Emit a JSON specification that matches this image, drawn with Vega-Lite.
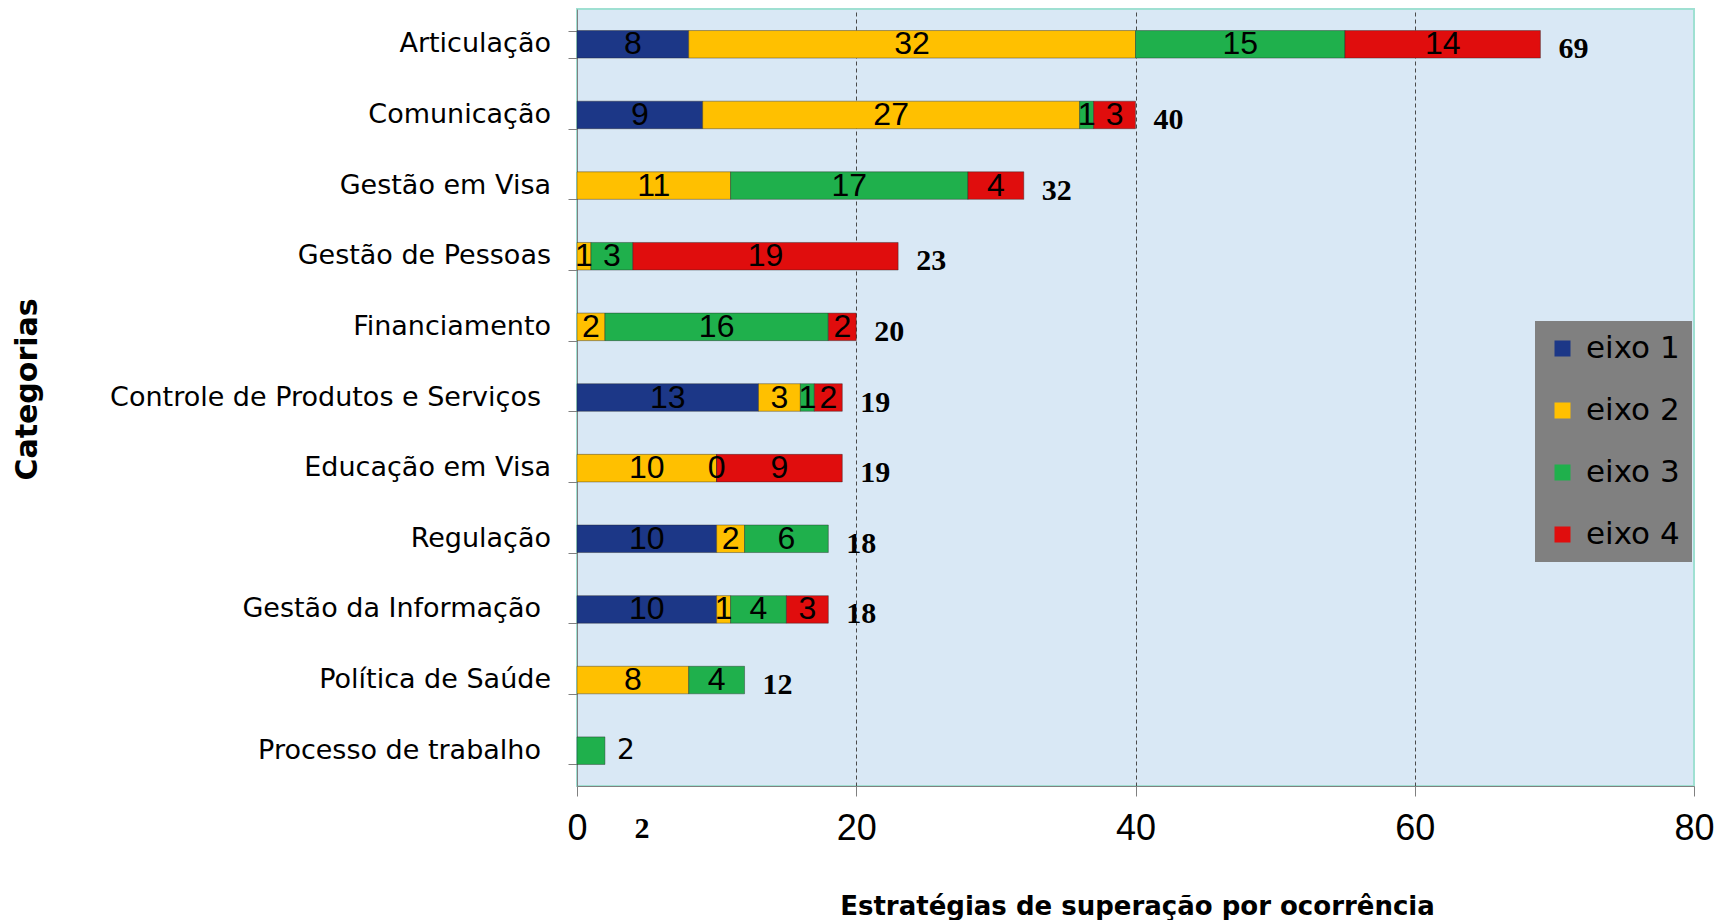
{
  "$schema": "https://vega.github.io/schema/vega-lite/v6.json",
  "width": 1117,
  "height": 777,
  "autosize": "none",
  "padding": {"left": 577, "top": 9, "right": 25, "bottom": 134},
  "background": "white",
  "config": {"view": {"fill": "#d9e8f5", "stroke": "#9fe0d2", "strokeWidth": 2}},
  "data": {
    "values": [
      {"cat": "Articulação", "eixo": "eixo 1", "v": 8},
      {"cat": "Articulação", "eixo": "eixo 2", "v": 32},
      {"cat": "Articulação", "eixo": "eixo 3", "v": 15},
      {"cat": "Articulação", "eixo": "eixo 4", "v": 14},
      {"cat": "Comunicação", "eixo": "eixo 1", "v": 9},
      {"cat": "Comunicação", "eixo": "eixo 2", "v": 27},
      {"cat": "Comunicação", "eixo": "eixo 3", "v": 1},
      {"cat": "Comunicação", "eixo": "eixo 4", "v": 3},
      {"cat": "Gestão em Visa", "eixo": "eixo 2", "v": 11},
      {"cat": "Gestão em Visa", "eixo": "eixo 3", "v": 17},
      {"cat": "Gestão em Visa", "eixo": "eixo 4", "v": 4},
      {"cat": "Gestão de Pessoas", "eixo": "eixo 2", "v": 1},
      {"cat": "Gestão de Pessoas", "eixo": "eixo 3", "v": 3},
      {"cat": "Gestão de Pessoas", "eixo": "eixo 4", "v": 19},
      {"cat": "Financiamento", "eixo": "eixo 2", "v": 2},
      {"cat": "Financiamento", "eixo": "eixo 3", "v": 16},
      {"cat": "Financiamento", "eixo": "eixo 4", "v": 2},
      {"cat": "Controle de Produtos e Serviços", "eixo": "eixo 1", "v": 13},
      {"cat": "Controle de Produtos e Serviços", "eixo": "eixo 2", "v": 3},
      {"cat": "Controle de Produtos e Serviços", "eixo": "eixo 3", "v": 1},
      {"cat": "Controle de Produtos e Serviços", "eixo": "eixo 4", "v": 2},
      {"cat": "Educação em Visa", "eixo": "eixo 2", "v": 10},
      {"cat": "Educação em Visa", "eixo": "eixo 3", "v": 0},
      {"cat": "Educação em Visa", "eixo": "eixo 4", "v": 9},
      {"cat": "Regulação", "eixo": "eixo 1", "v": 10},
      {"cat": "Regulação", "eixo": "eixo 2", "v": 2},
      {"cat": "Regulação", "eixo": "eixo 3", "v": 6},
      {"cat": "Gestão da Informação", "eixo": "eixo 1", "v": 10},
      {"cat": "Gestão da Informação", "eixo": "eixo 2", "v": 1},
      {"cat": "Gestão da Informação", "eixo": "eixo 3", "v": 4},
      {"cat": "Gestão da Informação", "eixo": "eixo 4", "v": 3},
      {"cat": "Política de Saúde", "eixo": "eixo 2", "v": 8},
      {"cat": "Política de Saúde", "eixo": "eixo 3", "v": 4},
      {"cat": "Processo de trabalho", "eixo": "eixo 3", "v": 2}
    ]
  },
  "encoding": {
    "y": {
      "field": "cat",
      "type": "nominal",
      "sort": ["Articulação", "Comunicação", "Gestão em Visa", "Gestão de Pessoas", "Financiamento", "Controle de Produtos e Serviços", "Educação em Visa", "Regulação", "Gestão da Informação", "Política de Saúde", "Processo de trabalho"],
      "scale": {"paddingInner": 0.61, "paddingOuter": 0.305},
      "axis": {
        "title": "Categorias",
        "titleFont": "DejaVu Sans",
        "titleFontSize": 30,
        "titleFontWeight": "bold",
        "titleColor": "black",
        "titleAngle": -90,
        "titleX": -550,
        "titleY": 380,
        "titleAlign": "center",
        "titleBaseline": "middle",
        "labels": false,
        "tickSize": 9,
        "tickColor": "#808080",
        "domainColor": "#808080",
        "tickBand": "extent"
      }
    }
  },
  "layer": [
    {
      "mark": {"type": "bar", "stroke": "#222222", "strokeWidth": 0.8, "strokeOpacity": 0.5},
      "encoding": {
        "x": {
          "field": "v",
          "type": "quantitative",
          "stack": "zero",
          "scale": {"domain": [0, 80], "nice": false},
          "axis": {
            "values": [0, 20, 40, 60, 80],
            "title": "Estratégias de superação por ocorrência",
            "titleFont": "DejaVu Sans",
            "titleFontSize": 26,
            "titleFontWeight": "bold",
            "titleColor": "black",
            "titleX": 560,
            "titleY": 120,
            "titleAlign": "center",
            "titleBaseline": "middle",
            "labelFont": "Liberation Sans",
            "labelFontSize": 36,
            "labelColor": "black",
            "labelBaseline": "middle",
            "labelPadding": 32,
            "labelFlush": false,
            "tickSize": 10,
            "tickColor": "#808080",
            "domainColor": "#808080",
            "grid": true,
            "gridColor": "#4a4a4a",
            "gridDash": [4, 3],
            "gridOpacity": {"condition": {"test": "datum.value == 0 || datum.value == 80", "value": 0}, "value": 1}
          }
        },
        "color": {
          "field": "eixo",
          "type": "nominal",
          "scale": {"domain": ["eixo 1", "eixo 2", "eixo 3", "eixo 4"], "range": ["#1c3787", "#ffc000", "#1fb04c", "#e00d0d"]},
          "legend": {
            "title": null,
            "orient": "none",
            "legendX": 958,
            "legendY": 312,
            "fillColor": "#808080",
            "padding": 12,
            "labelFont": "DejaVu Sans",
            "labelFontSize": 31,
            "labelColor": "black",
            "symbolType": "square",
            "symbolSize": 256,
            "symbolStrokeWidth": 0,
            "symbolOpacity": 1,
            "rowPadding": 30,
            "labelOffset": 8
          }
        },
        "order": {"field": "eixo"}
      }
    },
    {
      "transform": [
        {"aggregate": [{"op": "count", "as": "n"}], "groupby": ["cat"]},
        {"filter": "indexof(['Controle de Produtos e Serviços', 'Gestão da Informação', 'Processo de trabalho'], datum.cat) < 0"}
      ],
      "mark": {"type": "text", "font": "DejaVu Sans", "fontSize": 27, "color": "black", "baseline": "middle", "align": "right", "dx": -26},
      "encoding": {
        "x": {"datum": 0, "type": "quantitative"},
        "text": {"field": "cat", "type": "nominal"}
      }
    },
    {
      "transform": [
        {"aggregate": [{"op": "count", "as": "n"}], "groupby": ["cat"]},
        {"filter": "indexof(['Controle de Produtos e Serviços', 'Gestão da Informação', 'Processo de trabalho'], datum.cat) >= 0"}
      ],
      "mark": {"type": "text", "font": "DejaVu Sans", "fontSize": 27, "color": "black", "baseline": "middle", "align": "right", "dx": -36},
      "encoding": {
        "x": {"datum": 0, "type": "quantitative"},
        "text": {"field": "cat", "type": "nominal"}
      }
    },
    {
      "transform": [
        {"stack": "v", "groupby": ["cat"], "sort": [{"field": "eixo"}], "as": ["x0", "x1"]},
        {"calculate": "(datum.x0 + datum.x1) / 2", "as": "mid"},
        {"filter": "datum.cat != 'Processo de trabalho'"}
      ],
      "mark": {"type": "text", "font": "Liberation Sans", "fontSize": 32, "color": "black", "baseline": "middle", "align": "center"},
      "encoding": {
        "x": {"field": "mid", "type": "quantitative"},
        "text": {"field": "v", "type": "quantitative"}
      }
    },
    {
      "transform": [{"filter": "datum.cat == 'Processo de trabalho'"}],
      "mark": {"type": "text", "font": "DejaVu Sans", "fontSize": 28, "color": "black", "baseline": "middle", "align": "left", "dx": 12},
      "encoding": {
        "x": {"field": "v", "type": "quantitative", "stack": null},
        "text": {"field": "v", "type": "quantitative"}
      }
    },
    {
      "transform": [{"filter": "datum.cat != 'Processo de trabalho'"}],
      "mark": {"type": "text", "font": "Liberation Serif", "fontWeight": "bold", "fontSize": 30, "color": "black", "baseline": "middle", "align": "left", "dx": 18, "dy": 5},
      "encoding": {
        "x": {"aggregate": "sum", "field": "v", "type": "quantitative", "stack": null},
        "text": {"aggregate": "sum", "field": "v", "type": "quantitative"}
      }
    },
    {
      "transform": [{"filter": "datum.cat == 'Processo de trabalho'"}],
      "mark": {"type": "text", "font": "Liberation Serif", "fontWeight": "bold", "fontSize": 30, "color": "black", "baseline": "middle", "align": "center", "dx": 37, "dy": 78},
      "encoding": {
        "x": {"aggregate": "sum", "field": "v", "type": "quantitative", "stack": null},
        "text": {"aggregate": "sum", "field": "v", "type": "quantitative"}
      }
    }
  ]
}
